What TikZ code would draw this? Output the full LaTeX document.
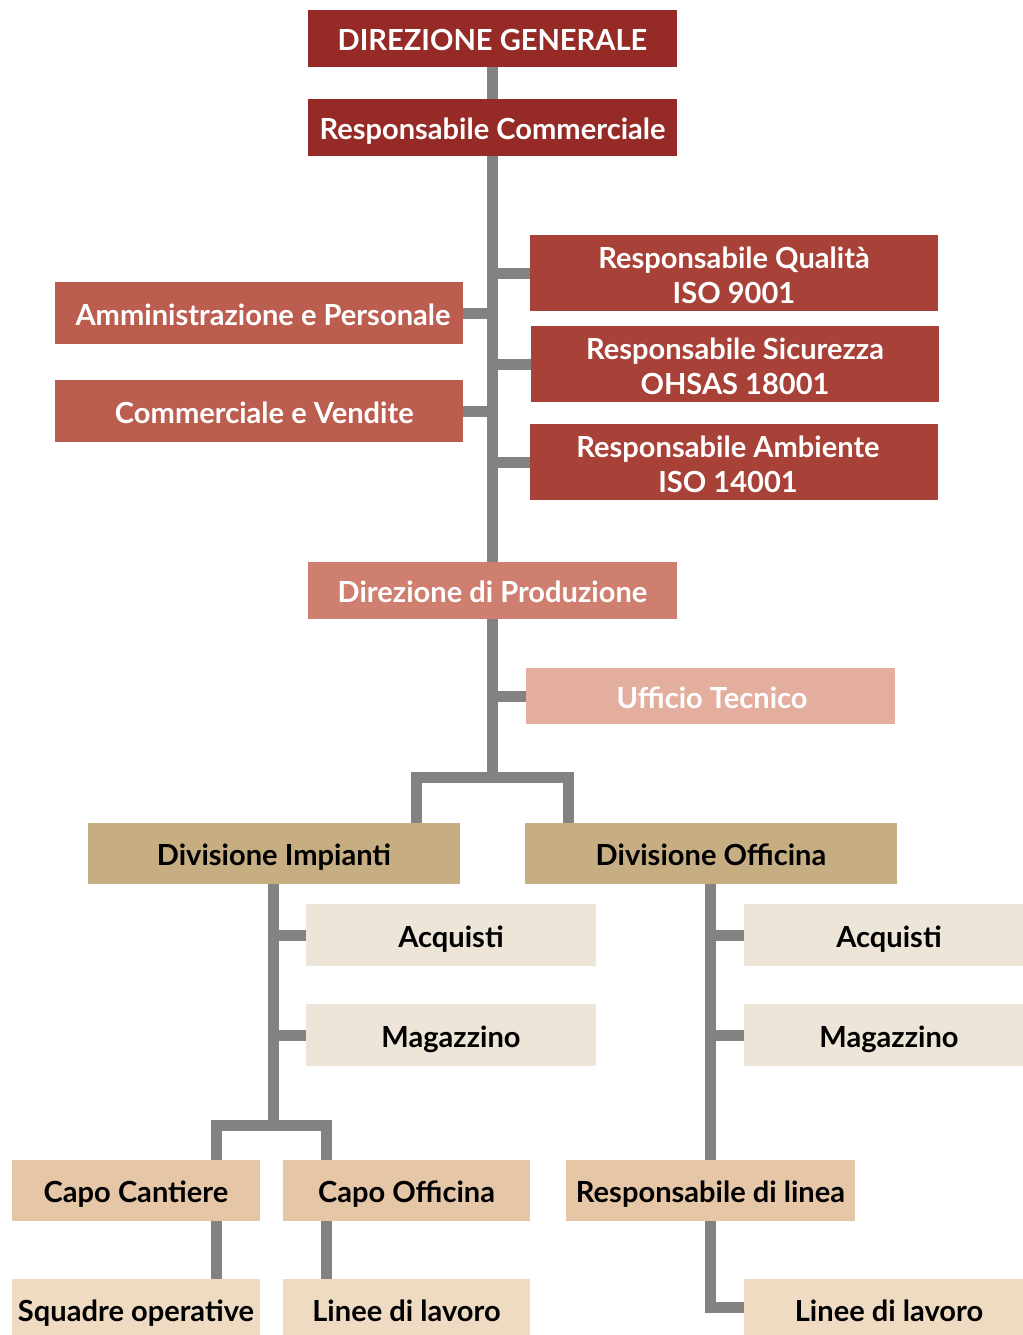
\documentclass[tikz,border=0pt]{standalone}
\usepackage{fontspec}
\setmainfont{Lato}
\usetikzlibrary{backgrounds}
\definecolor{cDG}{HTML}{952A26}
\definecolor{cRQ}{HTML}{A84137}
\definecolor{cAP}{HTML}{BB5D4F}
\definecolor{cDP}{HTML}{CF7F70}
\definecolor{cUT}{HTML}{E4AE9F}
\definecolor{cDI}{HTML}{C6AD82}
\definecolor{cAQ}{HTML}{EDE5D8}
\definecolor{cCC}{HTML}{E5C6A6}
\definecolor{cSO}{HTML}{EEDBC2}
\definecolor{cLine}{HTML}{838281}
\tikzset{
  boxbase/.style={inner sep=0pt, outer sep=0pt},
  txt/.style={inner sep=0pt, outer sep=0pt, align=center,
    font=\fontsize{21.8pt}{26.25pt}\selectfont\bfseries},
  one/.style={txt, text height=18pt, text depth=0pt},
  two/.style={txt, yshift=-1.5pt},
  conn/.style={draw=cLine, line width=8.25pt, line join=miter},
}
% name, x1, y1, x2, y2, fill, text style, text
\newcommand\bx[8]{%
  \node[boxbase, fill=#6, minimum width={(#4-#2)*0.75pt}, minimum height={(#5-#3)*0.75pt}]
    (#1) at ({(#2+#4)/2},{(#3+#5)/2}) {};
  \node[#7] (#1t) at (#1.center) {#8};}
\begin{document}
\begin{tikzpicture}[x=0.75pt, y=-0.75pt]
\useasboundingbox (0,0) rectangle (1023,1335);
\bx{DG}{308}{10}{677}{67}{cDG}{one, text=white}{DIREZIONE GENERALE}
\bx{RC}{308}{99}{677}{156}{cDG}{one, text=white}{Responsabile Commerciale}
\bx{RQ}{530}{235}{938}{311}{cRQ}{two, text=white}{Responsabile Qualità\\ISO 9001}
\bx{RS}{531}{326}{939}{402}{cRQ}{two, text=white}{Responsabile Sicurezza\\OHSAS 18001}
\bx{RA}{530}{424}{938}{500}{cRQ}{two, text=white, xshift=-4.5pt}{Responsabile Ambiente\\ISO 14001}
\bx{AP}{55}{282}{463}{344}{cAP}{one, text=white, xshift=3pt}{Amministrazione e Personale}
\bx{CV}{55}{380}{463}{442}{cAP}{one, text=white, xshift=4pt}{Commerciale e Vendite}
\bx{DP}{308}{562}{677}{619}{cDP}{one, text=white}{Direzione di Produzione}
\bx{UT}{526}{668}{895}{724}{cUT}{one, text=white, xshift=1.2pt}{Ufficio Tecnico}
\bx{DI}{88}{823}{460}{884}{cDI}{one}{Divisione Impianti}
\bx{DO}{525}{823}{897}{884}{cDI}{one}{Divisione Officina}
\bx{AQL}{306}{904}{596}{966}{cAQ}{one}{Acquisti}
\bx{MGL}{306}{1004}{596}{1066}{cAQ}{one}{Magazzino}
\bx{AQR}{744}{904}{1034}{966}{cAQ}{one}{Acquisti}
\bx{MGR}{744}{1004}{1034}{1066}{cAQ}{one}{Magazzino}
\bx{CC}{12}{1160}{260}{1221}{cCC}{one}{Capo Cantiere}
\bx{CO}{283}{1160}{530}{1221}{cCC}{one}{Capo Officina}
\bx{RL}{566}{1160}{855}{1221}{cCC}{one}{Responsabile di linea}
\bx{SO}{12}{1279}{260}{1340}{cSO}{one}{Squadre operative}
\bx{LL}{283}{1279}{530}{1340}{cSO}{one}{Linee di lavoro}
\bx{LR}{744}{1279}{1034}{1340}{cSO}{one}{Linee di lavoro}
\coordinate (s1) at (492.5,777);
\coordinate (sL) at (416,777);
\coordinate (sR) at (568,777);
\coordinate (s2) at (273,1125);
\coordinate (s2L) at (216,1125);
\coordinate (s2R) at (326,1125);
\coordinate (s3) at (710,1307);
\begin{scope}[on background layer]
  \draw[conn] (DG.south) -- (RC.north);
  \draw[conn] (RC.south) -- (DP.north);
  \foreach \n in {RQ,RS,RA} \draw[conn] (\n.west) -- (\n.west -| RC.south);
  \foreach \n in {AP,CV} \draw[conn] (\n.east) -- (\n.east -| RC.south);
  \draw[conn] (DP.south) -- (s1);
  \draw[conn] (UT.west) -- (UT.west -| s1);
  \draw[conn] (sL |- DI.north) -- (sL) -- (sR) -- (sR |- DO.north);
  \draw[conn] (DI.south -| s2) -- (s2);
  \foreach \n in {AQL,MGL} \draw[conn] (\n.west) -- (\n.west -| s2);
  \draw[conn] (s2L |- CC.north) -- (s2L) -- (s2R) -- (s2R |- CO.north);
  \draw[conn] (s2L |- CC.south) -- (s2L |- SO.north);
  \draw[conn] (s2R |- CO.south) -- (s2R |- LL.north);
  \draw[conn] (DO.south -| s3) -- (s3 |- RL.north);
  \foreach \n in {AQR,MGR} \draw[conn] (\n.west) -- (\n.west -| s3);
  \draw[conn] (RL.south -| s3) -- (s3) -- (s3 -| LR.west);
\end{scope}
\end{tikzpicture}
\end{document}
